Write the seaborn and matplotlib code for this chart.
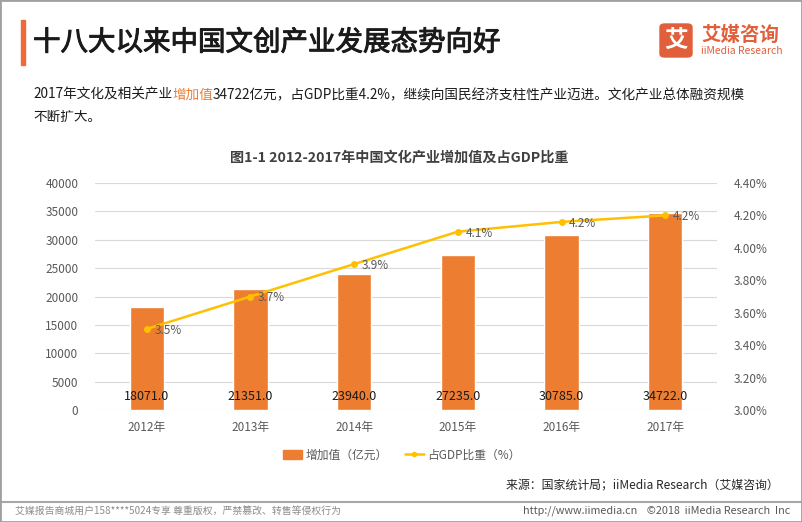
import matplotlib.patheffects as pe
import matplotlib.pyplot as plt
import seaborn as sns
from matplotlib.lines import Line2D
from matplotlib.patches import FancyBboxPatch, Patch, Rectangle

years = ["2012年", "2013年", "2014年", "2015年", "2016年", "2017年"]
added_value = [18071.0, 21351.0, 23940.0, 27235.0, 30785.0, 34722.0]
gdp_share = [3.5, 3.7, 3.9, 4.1, 4.16, 4.2]

BAR_COLOR = "#ED7D31"
LINE_COLOR = "#FFC000"
LOGO_COLOR = "#E0603C"
TEXT_GRAY = "#595959"

sns.set_theme(style="white")
plt.rcParams["font.family"] = ["Noto Sans CJK SC", "DejaVu Sans"]

W, H = 802, 522
fig = plt.figure(figsize=(W / 100, H / 100), dpi=100)


def px(x, y):
    # pixel coords (top-left origin) -> figure fraction
    return x / W, 1 - y / H


ax = fig.add_axes([95 / W, 1 - 410 / H, (717 - 95) / W, (410 - 183) / H])
sns.barplot(x=years, y=added_value, color=BAR_COLOR, saturation=1, width=0.33, ax=ax, zorder=2)
ax.set_ylim(0, 40000)
ax.set_yticks(range(0, 40001, 5000))
ax.set_xlim(-0.5, 5.5)
ax.set_xlabel("")
ax.set_ylabel("")
ax.grid(axis="y", color="#D9D9D9", linewidth=0.8, zorder=0)
ax.set_axisbelow(True)
for s in ax.spines.values():
    s.set_visible(False)
ax.tick_params(axis="both", length=0, colors=TEXT_GRAY, labelsize=8.5)
ax.tick_params(axis="x", pad=8)
ax.tick_params(axis="y", pad=12)

for i, v in enumerate(added_value):
    ax.text(i, 2450, f"{v:.1f}", ha="center", va="center", fontsize=9, color="#1a1a1a", zorder=4)

ax2 = ax.twinx()
sns.lineplot(x=list(range(len(years))), y=gdp_share, ax=ax2, color=LINE_COLOR, linewidth=1.8,
             marker="o", markersize=5, markeredgewidth=0, zorder=3)
ax2.set_ylim(3.0, 4.4)
ax2.set_yticks([3.0 + 0.2 * k for k in range(8)])
ax2.set_yticklabels([f"{3.0 + 0.2 * k:.2f}%" for k in range(8)])
ax2.set_xlim(-0.5, 5.5)
ax2.set_ylabel("")
for s in ax2.spines.values():
    s.set_visible(False)
ax2.tick_params(axis="y", length=0, colors=TEXT_GRAY, labelsize=8.5, pad=12)
for i, v in enumerate(gdp_share):
    ax2.annotate(f"{v:.1f}%", (i, v), xytext=(5.5, -1), textcoords="offset points",
                 ha="left", va="center", fontsize=8.5, color=TEXT_GRAY)

# title block
fig.patches.append(Rectangle(px(21, 65), 4 / W, 45 / H, transform=fig.transFigure,
                             color="#EE6A3A", zorder=5))
fig.text(*px(33, 43), "十八大以来中国文创产业发展态势向好", fontsize=19.8,
         color="#1a1a1a", va="center", ha="left",
         path_effects=[pe.withStroke(linewidth=0.7, foreground="#1a1a1a")])

# subtitle with highlighted segment
renderer = fig.canvas.get_renderer()
x0, y0 = px(33, 95)
parts = [("2017年文化及相关产业", "#1a1a1a"), ("增加值", BAR_COLOR),
         ("34722亿元，占GDP比重4.2%，继续向国民经济支柱性产业迈进。文化产业总体融资规模", "#1a1a1a")]
for txt, col in parts:
    t = fig.text(x0, y0, txt, fontsize=9.8, color=col, va="center", ha="left")
    bb = t.get_window_extent(renderer)
    x0 += bb.width / W
fig.text(*px(33, 117), "不断扩大。", fontsize=9.8, color="#1a1a1a", va="center", ha="left")

fig.text(*px(399, 158), "图1-1 2012-2017年中国文化产业增加值及占GDP比重", fontsize=10.2,
         weight="bold", color="#404040", ha="center", va="center")

# logo
fig.patches.append(FancyBboxPatch(px(660, 57), 32 / W, 33 / H, boxstyle="round,pad=0,rounding_size=0.006",
                                  transform=fig.transFigure, color=LOGO_COLOR, zorder=5))
fig.text(*px(676, 40), "艾", fontsize=17, weight="bold", color="white", ha="center", va="center", zorder=6)
fig.text(*px(701, 35), "艾媒咨询", fontsize=14, weight="bold", color=LOGO_COLOR, ha="left", va="center")
fig.text(*px(701, 51), "iiMedia Research", fontsize=7.5, color=LOGO_COLOR, ha="left", va="center")

# legend
handles = [Patch(color=BAR_COLOR, label="增加值（亿元）"),
           Line2D([0], [0], color=LINE_COLOR, linewidth=1.8, marker="o", markersize=4,
                  markeredgewidth=0, label="占GDP比重（%）")]
leg = fig.legend(handles=handles, loc="center", bbox_to_anchor=px(402, 455), ncol=2, frameon=False,
                 fontsize=8.5, handlelength=1.6, handleheight=0.7, columnspacing=1.4, handletextpad=0.3)
for t in leg.get_texts():
    t.set_color(TEXT_GRAY)

fig.text(*px(779, 486), "来源：国家统计局；iiMedia Research（艾媒咨询）", fontsize=8.6, color="#262626",
         ha="right", va="center")

# footer
fig.add_artist(Line2D([0, 1], [1 - 502 / H] * 2, transform=fig.transFigure, color="#A6A6A6", linewidth=1.5))
fig.text(*px(15, 511), "艾媒报告商城用户158****5024专享 尊重版权，严禁篡改、转售等侵权行为", fontsize=7.1,
         color="#8C8C8C", ha="left", va="center")
fig.text(*px(790, 511), "http://www.iimedia.cn    ©2018  iiMedia Research  Inc", fontsize=7.8,
         color="#595959", ha="right", va="center")

# outer frame
fig.patches.append(Rectangle((0, 0), 1, 1, transform=fig.transFigure, fill=False,
                             edgecolor="#A0A0A0", linewidth=2, zorder=10))

fig.savefig("out.png", dpi=100)
